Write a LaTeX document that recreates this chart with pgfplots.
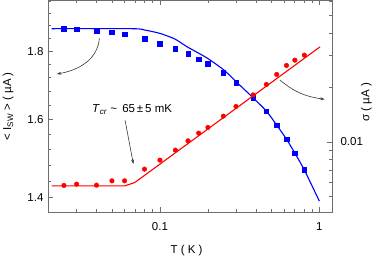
\documentclass[border=0pt]{standalone}
\usepackage{fontspec}
\setmainfont{Liberation Sans}
\usepackage{pgfplots}
\pgfplotsset{compat=1.18}
\usetikzlibrary{arrows.meta}
\definecolor{framegray}{RGB}{110,110,110}
\definecolor{arrowgray}{RGB}{55,55,55}
\definecolor{myblue}{RGB}{0,0,255}
\definecolor{myred}{RGB}{255,0,0}
\begin{document}
\begin{tikzpicture}
\begin{axis}[
  scale only axis, width=283.5pt, height=211.5pt,
  xmode=log, ymode=log, xmin=0.02, xmax=1.2,
  tick align=inside,
  major tick length=5pt, minor tick length=3pt,
  axis line style={framegray, line width=0.9pt},
  tick style={framegray, line width=0.7pt},
  ticklabel style={font=\fontsize{11.5}{13}\selectfont},
  clip mode=individual,
  ymin=1.3661, ymax=1.9634,
  xtick={0.1,1}, xticklabels={0.1,1},
  minor xtick={0.03,0.04,0.05,0.06,0.07,0.08,0.09,0.2,0.3,0.4,0.5,0.6,0.7,0.8,0.9},
  xtick pos=both,
  ytick={1.4,1.6,1.8}, yticklabels={1.4,1.6,1.8},
  minor ytick={1.44,1.48,1.52,1.56,1.64,1.68,1.72,1.76,1.84,1.88,1.92,1.96},
  ytick pos=left,
  xticklabel style={yshift=-7pt},
  yticklabel style={xshift=-1.5pt},
  xlabel={T ( K )},
  ylabel={< I\textsubscript{SW} > ( µA )},
  every axis x label/.style={at={(axis description cs:0.487,-0.184)}, anchor=center, font=\fontsize{11.5}{13}\selectfont},
  every axis y label/.style={at={(axis description cs:-0.142,0.5)}, anchor=center, rotate=90, font=\fontsize{11.5}{13}\selectfont},
]
\addplot[myblue, line width=1.1pt, smooth, tension=0.4] coordinates {
(0.0209,1.8705) (0.0676,1.8705) (0.0804,1.8663) (0.1000,1.8557) (0.1243,1.8376)
(0.1480,1.8135) (0.1978,1.7787) (0.2520,1.7424) (0.3026,1.7070) (0.3838,1.6616)
(0.4655,1.6240) (0.5405,1.5853) (0.6223,1.5478) (0.7021,1.5110) (0.8045,1.4683)
(1.0000,1.3917)};
\addplot[only marks, mark=square*, mark size=2.3pt, myblue] coordinates {
(0.025,1.8703) (0.030,1.8695) (0.040,1.8640) (0.050,1.8598) (0.060,1.8535)
(0.080,1.8386) (0.100,1.8240) (0.125,1.8072) (0.150,1.7929) (0.175,1.7755)
(0.200,1.7624) (0.250,1.7354) (0.300,1.7060) (0.384,1.6614) (0.465,1.6238)
(0.540,1.5853) (0.622,1.5476) (0.702,1.5108) (0.805,1.4681)};
\node[anchor=base west, font=\fontsize{11.5}{13}\selectfont, inner sep=0pt]
  at (axis description cs:0.153,0.4695)
  {\textit{T}\textsubscript{\textit{cr}} \textasciitilde{}\, 65\,±\,5 mK};
\draw[arrowgray, line width=0.6pt, -{Stealth[length=4.5pt,width=3pt]}]
  (axis description cs:0.2701,0.4336) -- (axis description cs:0.2993,0.2270);
\draw[arrowgray, line width=0.6pt, -{Stealth[length=4.5pt,width=3pt]}]
  (axis description cs:0.1796,0.8213) to[out=-95,in=10] (axis description cs:0.0296,0.6525);
\draw[arrowgray, line width=0.6pt, -{Stealth[length=4.5pt,width=3pt]}]
  (axis description cs:0.8162,0.6241) to[out=-40,in=172] (axis description cs:0.9743,0.5329);
\end{axis}
\begin{axis}[
  scale only axis, width=283.5pt, height=211.5pt,
  xmode=log, ymode=log, xmin=0.02, xmax=1.2,
  tick align=inside,
  major tick length=5pt, minor tick length=3pt,
  axis line style={framegray, line width=0.9pt},
  tick style={framegray, line width=0.7pt},
  ticklabel style={font=\fontsize{11.5}{13}\selectfont},
  ymin=0.0041, ymax=0.0605,
  axis x line=none, axis y line*=right,
  ytick={0.01}, yticklabels={0.01},
  minor ytick={0.005,0.006,0.007,0.008,0.009,0.02,0.03,0.04,0.05,0.06},
  yticklabel style={xshift=5pt},
  ylabel={σ ( µA )},
  every axis y label/.style={at={(axis description cs:1.121,0.518)}, anchor=center, rotate=90, font=\fontsize{11.5}{13}\selectfont},
]
\addplot[myred, line width=1.1pt] coordinates {
(0.0209,0.00572) (0.0602,0.00572) (0.0696,0.00597) (1.009,0.03354)};
\addplot[only marks, mark=*, mark size=2.3pt, myred] coordinates {
(0.025,0.005749) (0.030,0.005845) (0.040,0.005770) (0.050,0.006097) (0.060,0.006097)
(0.080,0.007074) (0.100,0.007932) (0.125,0.009010) (0.150,0.010141) (0.175,0.011183)
(0.200,0.012025) (0.250,0.013884) (0.300,0.015709) (0.384,0.018204) (0.465,0.020780)
(0.540,0.023602) (0.622,0.026470) (0.702,0.028312) (0.805,0.030173)};
\end{axis}
\pgfresetboundingbox
\path[use as bounding box] (-48.5pt,-44pt) rectangle (325.5pt,212pt);
\end{tikzpicture}
\end{document}
